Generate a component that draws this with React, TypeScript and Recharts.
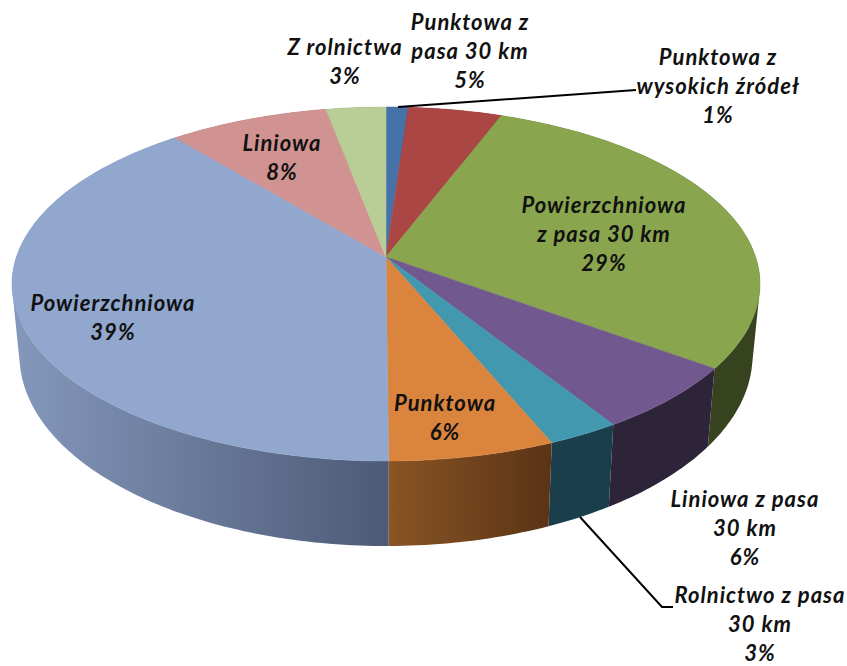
import React from 'react';
import { Cell, Pie, PieChart } from 'recharts';

const categories = [
  ['Punktowa z', 'wysokich źródeł'],
  ['Punktowa z', 'pasa 30 km'],
  ['Powierzchniowa', 'z pasa 30 km'],
  ['Liniowa z pasa', '30 km'],
  ['Rolnictwo z pasa', '30 km'],
  ['Punktowa'],
  ['Powierzchniowa'],
  ['Liniowa'],
  ['Z rolnictwa'],
];
const shares = [1.1, 4.7, 29.2, 6, 2.7, 6.2, 39.1, 8, 3];

const topColors = ['#4572a7', '#aa4643', '#89a54e', '#71588f', '#4198af', '#db843d', '#91a7ce', '#d19392', '#b9cd96'];
const wallFrom = ['#2a4464', '#662a28', '#37421f', '#2e2439', '#1b3e4c', '#8a5424', '#8498bb', '#7d5857', '#6f7b5a'];
const wallTo = ['#2a4464', '#662a28', '#37421f', '#2e2439', '#1b3e4c', '#5a3416', '#4d5a76', '#7d5857', '#6f7b5a'];

// where each label sits: centre x and baseline of its first line
const labelSpots = [
  [718, 65],
  [470, 30],
  [604, 213],
  [745, 507],
  [760, 603],
  [445, 411],
  [113, 311],
  [282, 151],
  [345, 55],
];
const lineHeight = 29;

const leaderLines: Record<number, string> = {
  0: 'M398,107 L636,90',
  4: 'M580,517 L662,607 L673,607',
};

const tableData = shares.map((share, i) => ({ name: categories[i].join(' '), share }));

// pie centre and the perspective of the tilted disc
const CX = 386;
const CY = 257;
const RX = 369.6;
const RY = 172.9;
const TILT = -0.1525;

const rad = (deg: number) => (deg * Math.PI) / 180;

// recharts angle -> point on the top rim
const rimPoint = (angle: number) => {
  const u = Math.cos(rad(angle));
  const v = -Math.sin(rad(angle));
  const d = 1 + TILT * v;
  return [CX + (RX * u) / d, CY + (RY * v) / d];
};

// same point on the lower edge of the wall
const lowerPoint = ([x, y]: number[]) => [CX + (x - CX) * 0.98, y + 85 - (461 - y) * 0.076];

const arcPoints = (startAngle: number, endAngle: number) => {
  const steps = Math.max(2, Math.ceil(Math.abs(endAngle - startAngle)));
  const pts = [];
  for (let i = 0; i <= steps; i++) {
    pts.push(rimPoint(startAngle + ((endAngle - startAngle) * i) / steps));
  }
  return pts;
};

const toPath = (pts: number[][]) => pts.map((p, i) => `${i ? 'L' : 'M'}${p[0].toFixed(1)},${p[1].toFixed(1)}`).join(' ');

// quad with a fixed winding, so overlapping quads don't cancel out
const quadPath = (q: number[][]) => {
  let area = 0;
  q.forEach((p, i) => {
    const n = q[(i + 1) % q.length];
    area += p[0] * n[1] - n[0] * p[1];
  });
  return `${toPath(area < 0 ? [...q].reverse() : q)} Z`;
};

const TopSlice = (props: any) => {
  const d = `M${CX},${CY} ${toPath(arcPoints(props.startAngle, props.endAngle)).replace('M', 'L')} Z`;
  return <path d={d} fill={props.fill} stroke={props.fill} strokeWidth={0.5} />;
};

const WallSlice = (props: any) => {
  const rim = arcPoints(props.startAngle, props.endAngle);
  const lower = rim.map(lowerPoint);
  const quads = rim.slice(1).map((p, i) => quadPath([rim[i], p, lower[i + 1], lower[i]]));
  const xs = [...rim, ...lower].map((p) => p[0]);
  const id = `wall-${props.index}`;
  return (
    <g>
      <defs>
        <linearGradient id={id} gradientUnits="userSpaceOnUse" x1={Math.min(...xs)} y1="0" x2={Math.max(...xs)} y2="0">
          <stop offset="0%" stopColor={wallFrom[props.index]} />
          <stop offset="100%" stopColor={wallTo[props.index]} />
        </linearGradient>
      </defs>
      <path d={quads.join(' ')} fill={`url(#${id})`} />
    </g>
  );
};

const SliceLabel = (props: any) => {
  const [x, y] = labelSpots[props.index];
  const lines = [...categories[props.index], `${Math.round(shares[props.index])}%`];
  return (
    <text
      textAnchor="middle"
      fontFamily="Lato, sans-serif"
      fontSize={22}
      fontWeight={700}
      fontStyle="italic"
      letterSpacing={1}
      fill="#111"
    >
      {lines.map((line, i) => (
        <tspan key={i} x={x} y={y + i * lineHeight}>
          {line}
        </tspan>
      ))}
    </text>
  );
};

const LeaderLine = (props: any) => {
  const d = leaderLines[props.index];
  return d ? <path d={d} fill="none" stroke="#000" strokeWidth={2} /> : <g />;
};

export default function App() {
  return (
    <div style={{ position: 'absolute', left: 0, top: 0, width: 847, height: 666, background: '#fff', overflow: 'hidden' }}>
      <PieChart width={847} height={666} margin={{ top: 0, right: 0, bottom: 0, left: 0 }}>
        <Pie
          data={tableData}
          dataKey="share"
          nameKey="name"
          cx={CX}
          cy={CY}
          outerRadius={RX}
          startAngle={90}
          endAngle={-270}
          paddingAngle={0}
          stroke="none"
          shape={WallSlice}
          isAnimationActive={false}
          label={false}
          labelLine={false}
        />
        <Pie
          data={tableData}
          dataKey="share"
          nameKey="name"
          cx={CX}
          cy={CY}
          outerRadius={RX}
          startAngle={90}
          endAngle={-270}
          paddingAngle={0}
          stroke="none"
          shape={TopSlice}
          isAnimationActive={false}
          label={SliceLabel}
          labelLine={LeaderLine}
        >
          {tableData.map((_, i) => (
            <Cell key={`cell-${i}`} fill={topColors[i]} />
          ))}
        </Pie>
      </PieChart>
    </div>
  );
}
